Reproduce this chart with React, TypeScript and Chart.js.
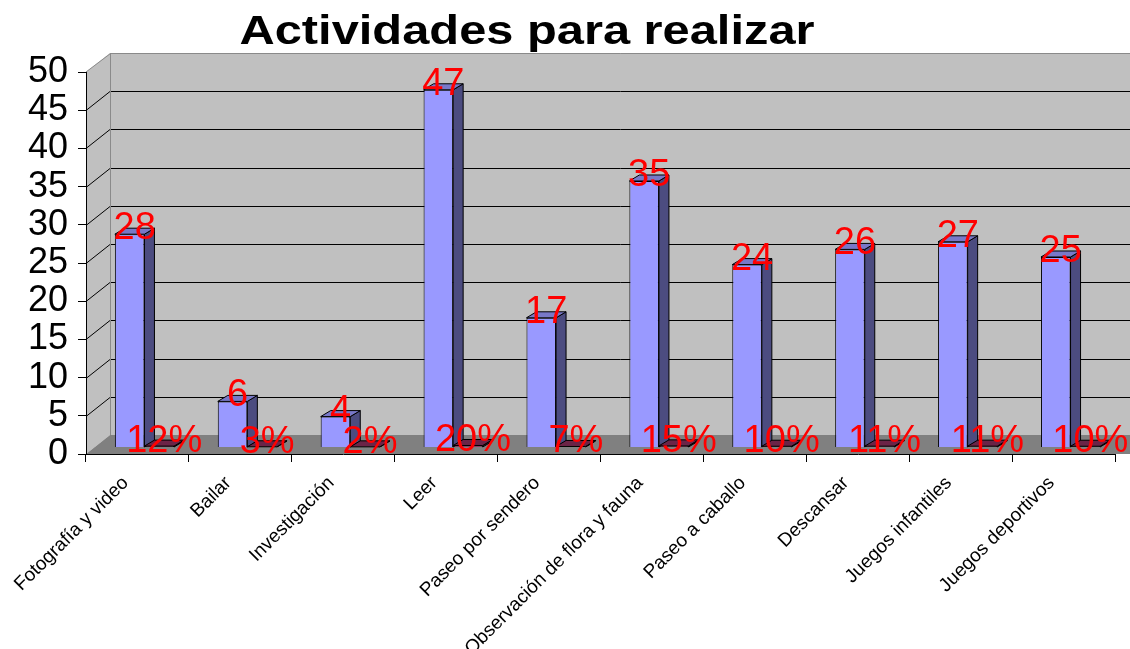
import React, { useEffect, useRef } from 'react';
import { Chart, registerables } from 'chart.js';

Chart.register(...registerables);

const TITLE = 'Actividades para realizar';
const categories = [
  'Fotografía y video',
  'Bailar',
  'Investigación',
  'Leer',
  'Paseo por sendero',
  'Observación de flora y fauna',
  'Paseo a caballo',
  'Descansar',
  'Juegos infantiles',
  'Juegos deportivos',
];
const counts = [28, 6, 4, 47, 17, 35, 24, 26, 27, 25];
const percents = [12, 3, 2, 20, 7, 15, 10, 11, 11, 10];
const yMin = 0;
const yMax = 50;
const yStep = 5;

// 3D look (styling only)
const WALL_DX = 24;
const WALL_DY = -19;
const BAR_DX = 10;
const BAR_DY = 6;
const BAR_SHIFT = 7;
const FONT = '"Liberation Sans", Arial, sans-serif';

const faceColors = [
  { side: '#4c4c80', top: '#7878c8' },
  { side: '#4d1a33', top: '#6b2447' },
];

const threeDPlugin = {
  id: 'threeD',
  beforeDraw(chart: any) {
    const { ctx, chartArea: a, scales } = chart;
    const y = scales.y;
    ctx.save();
    ctx.fillStyle = '#c0c0c0';
    // side wall
    ctx.beginPath();
    ctx.moveTo(a.left, a.top);
    ctx.lineTo(a.left + WALL_DX, a.top + WALL_DY);
    ctx.lineTo(a.left + WALL_DX, a.bottom + WALL_DY);
    ctx.lineTo(a.left, a.bottom);
    ctx.closePath();
    ctx.fill();
    // back wall
    ctx.fillRect(a.left + WALL_DX, a.top + WALL_DY, a.right - a.left + 40, a.bottom - a.top);
    // floor
    ctx.fillStyle = '#808080';
    ctx.beginPath();
    ctx.moveTo(a.left, a.bottom);
    ctx.lineTo(a.right + 40, a.bottom);
    ctx.lineTo(a.right + 40 + WALL_DX, a.bottom + WALL_DY);
    ctx.lineTo(a.left + WALL_DX, a.bottom + WALL_DY);
    ctx.closePath();
    ctx.fill();
    // gridlines
    ctx.strokeStyle = '#000';
    ctx.lineWidth = 1;
    for (let v = yMin + yStep; v < yMax; v += yStep) {
      const yy = Math.round(y.getPixelForValue(v)) + 0.5;
      ctx.beginPath();
      ctx.moveTo(a.left, yy);
      ctx.lineTo(a.left + WALL_DX, yy + WALL_DY);
      ctx.lineTo(a.right + 40 + WALL_DX, yy + WALL_DY);
      ctx.stroke();
    }
    // wall edges
    ctx.strokeStyle = '#8a8a8a';
    ctx.beginPath();
    ctx.moveTo(a.left, a.top);
    ctx.lineTo(a.left + WALL_DX + 0.5, a.top + WALL_DY + 0.5);
    ctx.lineTo(a.right + 40 + WALL_DX, a.top + WALL_DY + 0.5);
    ctx.moveTo(a.left + WALL_DX + 0.5, a.top + WALL_DY);
    ctx.lineTo(a.left + WALL_DX + 0.5, a.bottom + WALL_DY);
    ctx.stroke();
    ctx.restore();
  },
  beforeDatasetsDraw(chart: any) {
    chart.ctx.save();
    chart.ctx.translate(BAR_SHIFT, 0);
  },
  afterDatasetsDraw(chart: any) {
    const ctx = chart.ctx;
    ctx.lineWidth = 1;
    ctx.strokeStyle = '#000';
    const labels: { text: string; x: number; y: number }[] = [];
    chart.data.datasets.forEach((ds: any, di: number) => {
      const meta = chart.getDatasetMeta(di);
      meta.data.forEach((el: any, i: number) => {
        const p = el.getProps(['x', 'y', 'base', 'width'], true);
        const left = p.x - p.width / 2;
        const right = p.x + p.width / 2;
        const top = Math.min(p.y, p.base);
        const base = Math.max(p.y, p.base);
        // side face
        ctx.fillStyle = faceColors[di].side;
        ctx.beginPath();
        ctx.moveTo(right, top);
        ctx.lineTo(right + BAR_DX, top - BAR_DY);
        ctx.lineTo(right + BAR_DX, base - BAR_DY);
        ctx.lineTo(right, base);
        ctx.closePath();
        ctx.fill();
        ctx.stroke();
        // top face
        ctx.fillStyle = faceColors[di].top;
        ctx.beginPath();
        ctx.moveTo(left, top);
        ctx.lineTo(left + BAR_DX, top - BAR_DY);
        ctx.lineTo(right + BAR_DX, top - BAR_DY);
        ctx.lineTo(right, top);
        ctx.closePath();
        ctx.fill();
        ctx.stroke();
        const text = di === 0 ? String(counts[i]) : percents[i] + '%';
        labels.push({ text, x: p.x + BAR_DX / 2, y: top + (di === 0 ? 5 : 6) });
      });
    });
    ctx.fillStyle = '#ff0000';
    ctx.font = '38px ' + FONT;
    ctx.textAlign = 'center';
    ctx.textBaseline = 'alphabetic';
    labels.forEach((l) => ctx.fillText(l.text, l.x, l.y));
    ctx.restore();
  },
  afterDraw(chart: any) {
    const ctx = chart.ctx;
    ctx.save();
    ctx.fillStyle = '#000';
    ctx.font = 'bold 40px ' + FONT;
    ctx.textAlign = 'center';
    ctx.textBaseline = 'alphabetic';
    ctx.translate(527, 44);
    ctx.scale(1.22, 1);
    ctx.fillText(TITLE, 0, 0);
    ctx.restore();
  },
};

export default function App() {
  const ref = useRef<HTMLCanvasElement | null>(null);
  useEffect(() => {
    document.body.style.margin = '0';
    const canvas = ref.current;
    if (!canvas) return;
    const chart = new Chart(canvas, {
      type: 'bar',
      data: {
        labels: categories,
        datasets: [
          {
            label: 'Cantidad',
            data: counts,
            backgroundColor: '#9999ff',
            borderColor: '#000',
            borderWidth: 1,
            yAxisID: 'y2',
            barPercentage: 1,
            categoryPercentage: 0.575,
            clip: false as any,
          },
          {
            label: 'Porcentaje',
            data: percents.map((p) => p / 100),
            backgroundColor: '#993366',
            borderColor: '#000',
            borderWidth: 1,
            yAxisID: 'y2',
            barPercentage: 1,
            categoryPercentage: 0.575,
            clip: false as any,
          },
        ],
      },
      options: {
        responsive: false,
        animation: false,
        devicePixelRatio: 1,
        layout: { padding: { top: 72, right: 15, left: 0, bottom: 0 } },
        plugins: {
          legend: { display: false },
          tooltip: { enabled: false },
          title: { display: false },
        },
        scales: {
          x: {
            type: 'category',
            grid: {
              offset: true,
              drawOnChartArea: false,
              drawTicks: true,
              tickLength: 8,
              color: '#000',
            },
            border: { display: true, color: '#000', width: 1 },
            ticks: {
              autoSkip: false,
              minRotation: 45,
              maxRotation: 45,
              labelOffset: -12,
              padding: 10,
              color: '#000',
              font: { family: FONT, size: 19 },
            },
            afterFit: (s: any) => {
              s.height = 195;
            },
          },
          y: {
            type: 'linear',
            position: 'left',
            min: yMin,
            max: yMax,
            ticks: {
              stepSize: yStep,
              autoSkip: false,
              padding: 10,
              color: '#000',
              font: { family: FONT, size: 36 },
            },
            grid: {
              drawOnChartArea: false,
              drawTicks: true,
              tickLength: 8,
              color: '#000',
            },
            border: { display: true, color: '#000', width: 1 },
            afterFit: (s: any) => {
              s.width = 86;
            },
          },
          y2: {
            type: 'linear',
            display: false,
            min: -0.92,
            max: 49.34,
          },
        },
      },
      plugins: [threeDPlugin],
    });
    return () => chart.destroy();
  }, []);
  return (
    <div style={{ width: 1130, height: 649 }}>
      <canvas ref={ref} width={1130} height={649} style={{ display: 'block' }} />
    </div>
  );
}
